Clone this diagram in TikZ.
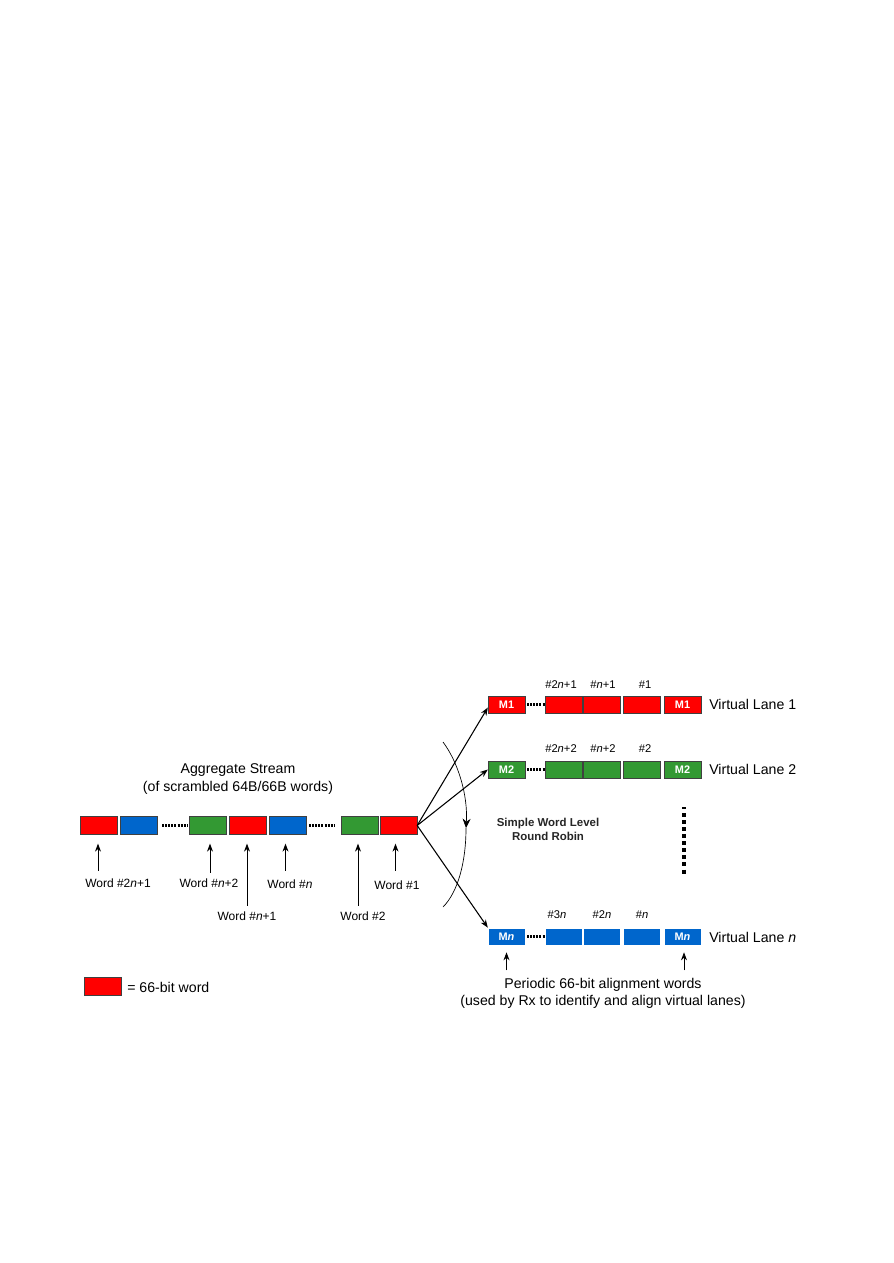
\documentclass[tikz,border=0pt]{standalone}
\usepackage{fontspec}
\setmainfont{Liberation Sans}
\usetikzlibrary{calc,arrows.meta}
\definecolor{wred}{HTML}{FF0000}
\definecolor{wblue}{HTML}{0066CC}
\definecolor{wgreen}{HTML}{339933}
\begin{document}
\begin{tikzpicture}[x=0.75pt,y=-0.75pt,
 word/.style={draw=black!75, line width=0.5pt, minimum width=27.5pt, minimum height=13.2pt, inner sep=0pt},
 lword/.style={word, minimum height=12.75pt, text=white, font=\fontsize{8.2}{9}\selectfont\bfseries},
 lbl/.style={font=\fontsize{9}{10}\selectfont, inner sep=0pt},
 hlbl/.style={font=\fontsize{8.4}{10}\selectfont, inner sep=0pt},
 big/.style={font=\fontsize{10.6}{13}\selectfont, inner sep=0pt, align=center},
 arr/.style={-{Stealth[length=6pt,width=4.5pt]}, line width=0.65pt},
 dots/.style={line width=2.2pt, dash pattern=on 1.5pt off 0.8pt},
]
\useasboundingbox (0,0) rectangle (893,1263);

% aggregate stream
\node[big] (agg) at (238,779) {Aggregate Stream\\(of scrambled 64B/66B words)};
\node[word, fill=wred]   (s1) at (99,825.5) {};
\node[word, fill=wblue]  (s2) at (138.5,825.5) {};
\node[word, fill=wgreen] (s3) at (208,825.5) {};
\node[word, fill=wred]   (s4) at (248,825.5) {};
\node[word, fill=wblue]  (s5) at (287.5,825.5) {};
\node[word, fill=wgreen] (s6) at (360,825.5) {};
\node[word, fill=wred]   (s7) at (398.5,825.5) {};
\draw[dots] ($(s2.east)+(5,0)$) -- ($(s3.west)+(-1,0)$);
\draw[dots] ($(s5.east)+(3,0)$) -- ($(s6.west)+(-7,0)$);

% word labels
\node[lbl] (w1) at (118,883) {Word \#2\textit{n}+1};
\node[lbl] (w3) at (209,883) {Word \#\textit{n}+2};
\node[lbl] (w4) at (247,916) {Word \#\textit{n}+1};
\node[lbl] (w5) at (290,884) {Word \#\textit{n}};
\node[lbl] (w6) at (363,916) {Word \#2};
\node[lbl] (w7) at (397,885) {Word \#1};
\draw[arr] ($(s1.south)+(-1,36)$) -- ($(s1.south)+(-1,9)$);
\draw[arr] ($(s3.south)+(2,38)$) -- ($(s3.south)+(2,9)$);
\draw[arr] ($(s4.south)+(-1,71)$) -- ($(s4.south)+(-1,9)$);
\draw[arr] ($(s5.south)+(-2,36)$) -- ($(s5.south)+(-2,9)$);
\draw[arr] ($(s6.south)+(-2,71)$) -- ($(s6.south)+(-2,9)$);
\draw[arr] ($(s7.south)+(-3,36)$) -- ($(s7.south)+(-3,9)$);

% lane 1
\node[lword, fill=wred] (m1) at (506.5,704.5) {M1};
\node[word, minimum height=12.75pt, fill=wred] (a1) at (563.5,704.5) {};
\node[word, minimum height=12.75pt, fill=wred] (a2) at (602,704.5) {};
\node[word, minimum height=12.75pt, fill=wred] (a3) at (642,704.5) {};
\node[lword, fill=wred] (m1r) at (682.5,704.5) {M1};
\draw[dots] ($(m1.east)+(2,0)$) -- (a1.west);
\node[big, anchor=west] (v1) at (709,704.5) {Virtual Lane 1};
\node[hlbl] at (561,685) {\#2\textit{n}+1};
\node[hlbl] at (603,685) {\#\textit{n}+1};
\node[hlbl] at (645,685) {\#1};

% lane 2
\node[lword, fill=wgreen] (m2) at (506.5,769.5) {M2};
\node[word, minimum height=12.75pt, fill=wgreen] (b1) at (563.5,769.5) {};
\node[word, minimum height=12.75pt, fill=wgreen] (b2) at (602,769.5) {};
\node[word, minimum height=12.75pt, fill=wgreen] (b3) at (642,769.5) {};
\node[lword, fill=wgreen] (m2r) at (682.5,769.5) {M2};
\draw[dots] ($(m2.east)+(2,0)$) -- (b1.west);
\node[big, anchor=west] (v2) at (709,769.5) {Virtual Lane 2};
\node[hlbl] at (561,749) {\#2\textit{n}+2};
\node[hlbl] at (603,749) {\#\textit{n}+2};
\node[hlbl] at (645,749) {\#2};

% lane n
\node[lword, fill=wblue, draw=white] (mn) at (506.5,936.5) {M\textit{n}};
\node[word, minimum height=12.75pt, fill=wblue, draw=white] (c1) at (563.5,936.5) {};
\node[word, minimum height=12.75pt, fill=wblue, draw=white] (c2) at (602,936.5) {};
\node[word, minimum height=12.75pt, fill=wblue, draw=white] (c3) at (642,936.5) {};
\node[lword, fill=wblue, draw=white] (mnr) at (682.5,936.5) {M\textit{n}};
\draw[dots] ($(mn.east)+(2,0)$) -- (c1.west);
\node[big, anchor=west] (vn) at (709,937) {Virtual Lane \textit{n}};
\node[hlbl] at (557,915) {\#3\textit{n}};
\node[hlbl] at (602,915) {\#2\textit{n}};
\node[hlbl] at (642,915) {\#\textit{n}};

% vertical dots
\draw[line width=3pt, dash pattern=on 3pt off 2.3pt] (684,813) -- (684,876);
\draw[line width=0.8pt] (682,808) -- (686,808);

% fan arrows
\draw[arr, line width=0.8pt] (s7.east) -- ($(m1.west)+(0,3)$);
\draw[arr, line width=0.8pt] (s7.east) -- (m2.west);
\draw[arr, line width=0.8pt] (s7.east) -- (mn.north west);

% round robin arc
\coordinate (rtop) at (443,742);
\coordinate (rmid) at (466,828);
\coordinate (rbot) at (443,907);
\draw[line width=0.5pt, -{Stealth[length=7pt,width=6pt]}] (rtop) .. controls (458,762) and (468,795) .. (rmid);
\draw[line width=0.5pt] (rmid) .. controls (466,862) and (458,892) .. (rbot);
\node[font=\fontsize{8.6}{10.5}\selectfont\bfseries, align=center, text=black!85] (rr) at (548,829) {Simple Word Level\\Round Robin};

% alignment words
\node[big] (per) at (603,993) {Periodic 66-bit alignment words\\(used by Rx to identify and align virtual lanes)};
\draw[arr] ($(mn.south)+(0,25)$) -- ($(mn.south)+(0,7)$);
\draw[arr] ($(mnr.south)+(1.5,25)$) -- ($(mnr.south)+(1.5,7)$);

% legend
\node[word, fill=wred] (leg) at (102.5,986.5) {};
\node[big, anchor=west] (legt) at (127,987) {= 66-bit word};
\end{tikzpicture}
\end{document}
